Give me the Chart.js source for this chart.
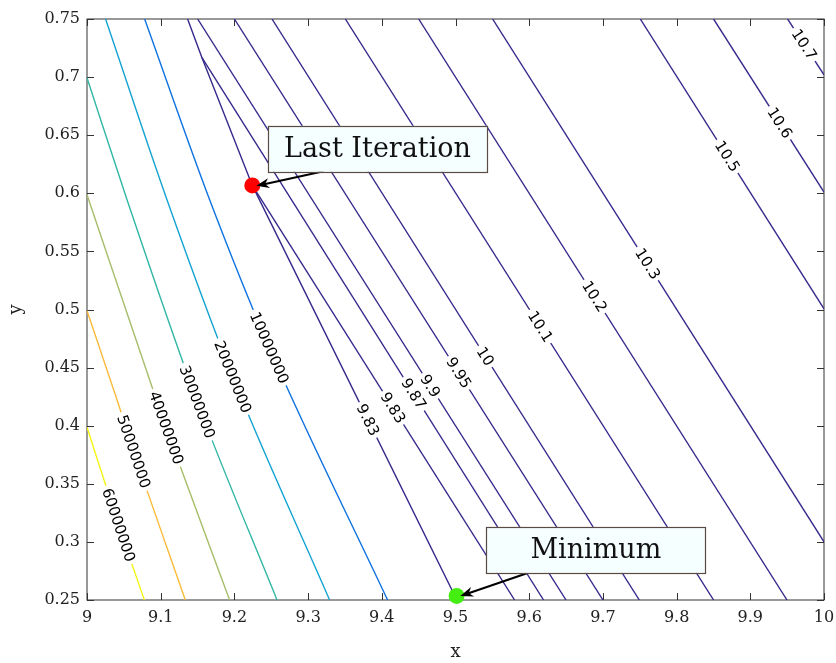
<!DOCTYPE html>
<html>
<head>
<meta charset="utf-8">
<script src="https://cdn.jsdelivr.net/npm/chart.js@4.4.0/dist/chart.umd.min.js"></script>
<style>
html, body { margin: 0; padding: 0; background: #fff; }
#wrap { width: 836px; height: 663px; }
</style>
</head>
<body>
<div id="wrap"><canvas id="contorno"></canvas></div>
<script>
// axis ticks
const xTicks = [9, 9.1, 9.2, 9.3, 9.4, 9.5, 9.6, 9.7, 9.8, 9.9, 10];
const yTicks = [0.25, 0.3, 0.35, 0.4, 0.45, 0.5, 0.55, 0.6, 0.65, 0.7, 0.75];

// contour lines
const c60000000x = [9, 9.0429, 9.0778];
const c60000000y = [0.3987, 0.3146, 0.25];
const c50000000x = [9, 9.0407, 9.0635, 9.1334];
const c50000000y = [0.4989, 0.4223, 0.3777, 0.25];
const c40000000x = [9, 9.0886, 9.1076, 9.1266, 9.1935];
const c40000000y = [0.5988, 0.4326, 0.3981, 0.3648, 0.25];
const c30000000x = [9, 9.0543, 9.1497, 9.2578];
const c30000000y = [0.6994, 0.5945, 0.4205, 0.25];
const c20000000x = [9.0252, 9.1085, 9.1978, 9.3292];
const c20000000y = [0.75, 0.5945, 0.4421, 0.25];
const c10000000x = [9.0782, 9.1664, 9.2474, 9.4079];
const c10000000y = [0.75, 0.5945, 0.4671, 0.25];
const c983ax = [9.1365, 9.156, 9.2243, 9.5019];
const c983ay = [0.75, 0.7167, 0.6068, 0.25];
const c983bx = [9.2243, 9.5802];
const c983by = [0.6068, 0.25];
const c987x = [9.156, 9.6195];
const c987y = [0.7167, 0.25];
const c99x = [9.1501, 9.65];
const c99y = [0.75, 0.25];
const c995x = [9.2, 9.7001];
const c995y = [0.75, 0.25];
const c10x = [9.251, 9.7494];
const c10y = [0.75, 0.25];
const c101x = [9.3505, 9.8502];
const c101y = [0.75, 0.25];
const c102x = [9.45, 9.9498];
const c102y = [0.75, 0.25];
const c103x = [9.5503, 10];
const c103y = [0.75, 0.300];
const c105x = [9.7507, 10];
const c105y = [0.75, 0.5006];
const c106x = [9.8502, 10];
const c106y = [0.75, 0.601];
const c107x = [9.9506, 10];
const c107y = [0.75, 0.702];

const levelNames = ['60000000', '50000000', '40000000', '30000000', '20000000', '10000000',
  '9.83', '9.83', '9.87', '9.9', '9.95', '10', '10.1', '10.2', '10.3', '10.5', '10.6', '10.7'];
const lineXs = [c60000000x, c50000000x, c40000000x, c30000000x, c20000000x, c10000000x,
  c983ax, c983bx, c987x, c99x, c995x, c10x, c101x, c102x, c103x, c105x, c106x, c107x];
const lineYs = [c60000000y, c50000000y, c40000000y, c30000000y, c20000000y, c10000000y,
  c983ay, c983by, c987y, c99y, c995y, c10y, c101y, c102y, c103y, c105y, c106y, c107y];
// y where each line carries its label
const labelY = [0.3146, 0.3777, 0.3981, 0.4205, 0.4421, 0.4671,
  0.405, 0.4154, 0.4274, 0.4343, 0.4455, 0.4596, 0.4854, 0.5112, 0.5394, 0.6318, 0.6606, 0.728];

// marked points
const pointNames = ['Last Iteration', 'Minimum'];
const pointX = [9.2243, 9.5015];
const pointY = [0.6068, 0.2535];

// colours (parula)
const dark = '#352a8c';
const lineColors = ['#f4f415', '#fbbb3a', '#a6be6a', '#31b7a4', '#12a3d3', '#0e72e0'];
const serif = 'DejaVu Serif';

function fmt(v) { return String(Number(v.toFixed(2))); }

// x on a line at a given y (straight interpolation between read points)
function xAtY(xs, ys, y) {
  for (let i = 0; i < xs.length - 1; i++) {
    const y0 = ys[i], y1 = ys[i + 1];
    if ((y <= y0 && y >= y1) || (y >= y0 && y <= y1)) {
      const t = (y - y0) / (y1 - y0);
      return xs[i] + t * (xs[i + 1] - xs[i]);
    }
  }
  return xs[0];
}

const datasets = [];
datasets.push({
  label: 'points',
  data: pointX.map((x, i) => ({ x: x, y: pointY[i] })),
  showLine: false,
  pointRadius: 8,
  pointHoverRadius: 8,
  pointBorderWidth: 0,
  pointBackgroundColor: ['#ff0000', '#44ee11'],
  clip: false
});
lineXs.forEach((xs, i) => {
  datasets.push({
    label: levelNames[i],
    data: xs.map((x, j) => ({ x: x, y: lineYs[i][j] })),
    showLine: true,
    borderColor: i < lineColors.length ? lineColors[i] : dark,
    borderWidth: 1.4,
    pointRadius: 0,
    cubicInterpolationMode: i < lineColors.length ? 'monotone' : 'default',
    tension: 0
  });
});

// box + inward ticks on four sides
const frame = {
  id: 'frame',
  beforeDatasetsDraw(chart) {
    const { ctx, chartArea: a, scales } = chart;
    ctx.save();
    ctx.strokeStyle = '#333333';
    ctx.lineWidth = 1;
    ctx.strokeRect(a.left, a.top, a.right - a.left, a.bottom - a.top);
    ctx.beginPath();
    xTicks.forEach(v => {
      const px = Math.round(scales.x.getPixelForValue(v)) + 0.5;
      ctx.moveTo(px, a.bottom); ctx.lineTo(px, a.bottom - 7);
      ctx.moveTo(px, a.top); ctx.lineTo(px, a.top + 7);
    });
    yTicks.forEach(v => {
      const py = Math.round(scales.y.getPixelForValue(v)) + 0.5;
      ctx.moveTo(a.left, py); ctx.lineTo(a.left + 7, py);
      ctx.moveTo(a.right, py); ctx.lineTo(a.right - 7, py);
    });
    ctx.stroke();
    ctx.restore();
  }
};

// inline contour labels
const contourLabels = {
  id: 'contourLabels',
  afterDatasetsDraw(chart) {
    const { ctx, scales } = chart;
    ctx.save();
    ctx.font = '15px "DejaVu Sans"';
    ctx.textAlign = 'center';
    ctx.textBaseline = 'middle';
    lineXs.forEach((xs, i) => {
      const ys = lineYs[i];
      const y = labelY[i];
      const x = xAtY(xs, ys, y);
      const yA = Math.min(y + 0.015, Math.max(...ys));
      const yB = Math.max(y - 0.015, Math.min(...ys));
      const pA = [scales.x.getPixelForValue(xAtY(xs, ys, yA)), scales.y.getPixelForValue(yA)];
      const pB = [scales.x.getPixelForValue(xAtY(xs, ys, yB)), scales.y.getPixelForValue(yB)];
      const ang = Math.atan2(pB[1] - pA[1], pB[0] - pA[0]);
      const px = scales.x.getPixelForValue(x), py = scales.y.getPixelForValue(y);
      const w = ctx.measureText(levelNames[i]).width;
      ctx.save();
      ctx.translate(px, py);
      ctx.rotate(ang);
      ctx.fillStyle = '#ffffff';
      ctx.fillRect(-w / 2 - 3, -7, w + 6, 14);
      ctx.fillStyle = '#000000';
      ctx.fillText(levelNames[i], 0, 1);
      ctx.restore();
    });
    ctx.restore();
  }
};

// text arrows
const boxCenters = [[9.3942, 0.6383], [9.6905, 0.2931]];
const arrowTails = [[9.321, 0.6189], [9.597, 0.273]];
const arrowHeads = [[9.2297, 0.6064], [9.5065, 0.2534]];
const textArrows = {
  id: 'textArrows',
  afterDraw(chart) {
    const { ctx, scales } = chart;
    const X = v => scales.x.getPixelForValue(v), Y = v => scales.y.getPixelForValue(v);
    ctx.save();
    pointNames.forEach((name, i) => {
      const tx = X(arrowTails[i][0]), ty = Y(arrowTails[i][1]);
      const hx = X(arrowHeads[i][0]), hy = Y(arrowHeads[i][1]);
      const ang = Math.atan2(hy - ty, hx - tx);
      const L = 13, W = 5;
      ctx.strokeStyle = '#000';
      ctx.lineWidth = 2;
      ctx.beginPath();
      ctx.moveTo(tx, ty);
      ctx.lineTo(hx - Math.cos(ang) * 8, hy - Math.sin(ang) * 8);
      ctx.stroke();
      ctx.fillStyle = '#000';
      ctx.beginPath();
      ctx.moveTo(hx, hy);
      ctx.lineTo(hx - L * Math.cos(ang) + W * Math.sin(ang), hy - L * Math.sin(ang) - W * Math.cos(ang));
      ctx.lineTo(hx - 9 * Math.cos(ang), hy - 9 * Math.sin(ang));
      ctx.lineTo(hx - L * Math.cos(ang) - W * Math.sin(ang), hy - L * Math.sin(ang) + W * Math.cos(ang));
      ctx.closePath();
      ctx.fill();

      const cx = X(boxCenters[i][0]), cy = Y(boxCenters[i][1]);
      const bw = 219, bh = 46;
      ctx.fillStyle = '#f6ffff';
      ctx.fillRect(cx - bw / 2, cy - bh / 2, bw, bh);
      ctx.strokeStyle = '#5a4a44';
      ctx.lineWidth = 1.2;
      ctx.strokeRect(Math.round(cx - bw / 2) + 0.5, Math.round(cy - bh / 2) + 0.5, bw, bh);
      ctx.fillStyle = '#111';
      ctx.font = '27px "' + serif + '"';
      ctx.textAlign = 'center';
      ctx.textBaseline = 'middle';
      ctx.fillText(name, cx, cy + 1);
    });
    ctx.restore();
  }
};

new Chart(document.getElementById('contorno'), {
  type: 'scatter',
  data: { datasets: datasets },
  options: {
    responsive: true,
    maintainAspectRatio: false,
    animation: false,
    events: [],
    layout: { padding: { left: 0, top: 19, right: 12, bottom: 0 } },
    plugins: { legend: { display: false }, tooltip: { enabled: false } },
    scales: {
      x: {
        type: 'linear', min: 9, max: 10,
        afterBuildTicks: s => { s.ticks = xTicks.map(v => ({ value: v })); },
        afterFit: s => { s.height = 63; s.paddingLeft = 0; s.paddingRight = 0; },
        ticks: { callback: v => fmt(v), color: '#222', font: { family: serif, size: 16 }, padding: 8, maxRotation: 0, autoSkip: false },
        grid: { display: false, drawTicks: false },
        border: { display: false },
        title: { display: true, text: 'x', color: '#222', font: { family: serif, size: 18 }, padding: { top: 0, bottom: 0 } }
      },
      y: {
        type: 'linear', min: 0.25, max: 0.75,
        afterBuildTicks: s => { s.ticks = yTicks.map(v => ({ value: v })); },
        afterFit: s => { s.width = 87; s.paddingTop = 0; s.paddingBottom = 0; },
        ticks: { callback: v => fmt(v), color: '#222', font: { family: serif, size: 16 }, padding: 7, autoSkip: false },
        grid: { display: false, drawTicks: false },
        border: { display: false },
        title: { display: true, text: 'y', color: '#222', font: { family: serif, size: 18 }, padding: { top: 6, bottom: 0 } }
      }
    }
  },
  plugins: [frame, contourLabels, textArrows]
});
</script>
</body>
</html>
